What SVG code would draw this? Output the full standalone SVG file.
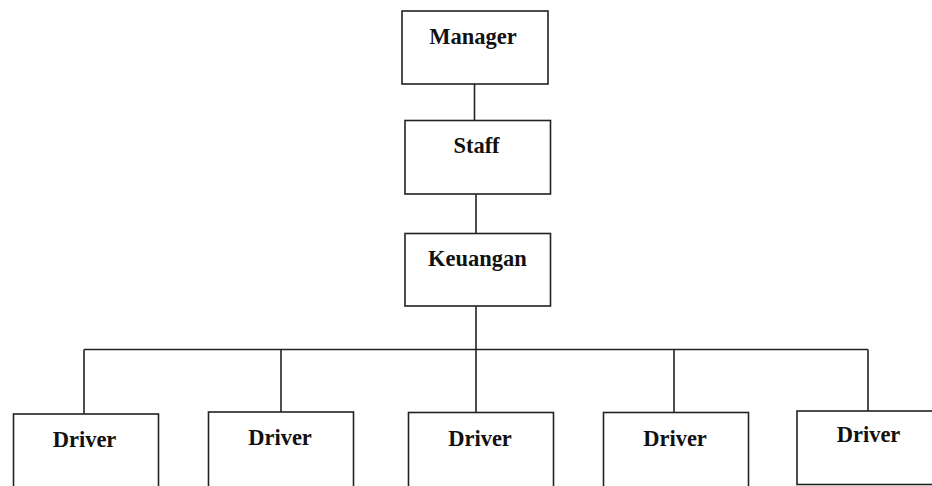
<svg xmlns="http://www.w3.org/2000/svg" width="932" height="486" viewBox="0 0 932 486">
<style>
.box{fill:#fff;stroke:#222;stroke-width:1.6}
.ln{fill:none;stroke:#222;stroke-width:1.6}
text{font-family:"Liberation Serif","Times New Roman",serif;font-weight:bold;font-size:22.5px;fill:#111;text-anchor:middle}
</style>
<rect width="932" height="486" fill="#fff"/>
<g id="connectors">
<line class="ln" x1="474.5" y1="84" x2="474.5" y2="120.5"/>
<line class="ln" x1="476" y1="194" x2="476" y2="233.5"/>
<line class="ln" x1="476" y1="306" x2="476" y2="412.5"/>
<line class="ln" x1="84" y1="349.5" x2="868" y2="349.5"/>
<line class="ln" x1="84" y1="349.5" x2="84" y2="414"/>
<line class="ln" x1="281" y1="349.5" x2="281" y2="412"/>
<line class="ln" x1="674" y1="349.5" x2="674" y2="412.5"/>
<line class="ln" x1="868" y1="349.5" x2="868" y2="411"/>
</g>
<g id="manager"><rect class="box" x="402" y="11" width="146" height="73"/><text x="473" y="44">Manager</text></g>
<g id="staff"><rect class="box" x="405" y="120.5" width="145.5" height="73.5"/><text x="476.5" y="153">Staff</text></g>
<g id="keuangan"><rect class="box" x="405" y="233.5" width="145.5" height="72.5"/><text x="477.5" y="266">Keuangan</text></g>
<g id="driver1"><rect class="box" x="13.5" y="414" width="145" height="90"/><text x="84.5" y="447">Driver</text></g>
<g id="driver2"><rect class="box" x="208.5" y="412" width="145" height="90"/><text x="280" y="445">Driver</text></g>
<g id="driver3"><rect class="box" x="408.5" y="412.5" width="145" height="90"/><text x="480" y="445.5">Driver</text></g>
<g id="driver4"><rect class="box" x="603.5" y="412.5" width="145" height="90"/><text x="675" y="445.5">Driver</text></g>
<g id="driver5"><rect class="box" x="797" y="411" width="145" height="73.5"/><text x="868.5" y="442">Driver</text></g>
</svg>
